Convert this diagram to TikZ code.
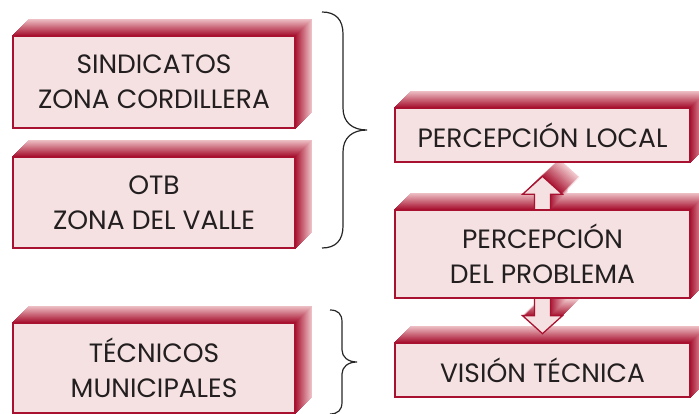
\documentclass[tikz,border=0pt]{standalone}
\usepackage{fontspec}
\setmainfont{Poppins}
\usetikzlibrary{positioning, backgrounds}

\definecolor{boxfront}{RGB}{245,225,225}
\definecolor{boxdark}{RGB}{168,18,48}
\definecolor{boxlight}{RGB}{246,214,216}
\definecolor{inktext}{RGB}{35,31,32}

\tikzset{
    block/.style = {draw=boxdark, fill=boxfront, line width=1.3pt, minimum width=282pt,
        inner sep=0pt, align=center, text=inktext, font=\fontsize{26.5}{35}\selectfont},
    wideblock/.style = {block, minimum width=295pt},
    blockarrow/.style = {draw=boxdark, fill=boxfront, line width=1.3pt, line join=miter},
    curly/.style = {line width=1.2pt, black!85},
}

% stack of shifted slices behind a box, dark at the front, light at the back
\newcommand{\extrudebox}[1]{%
    \foreach \k in {16,...,1}{
        \pgfmathsetmacro\pct{100-5.5*\k}
        \fill [boxdark!\pct!boxlight] ([shift={(\k,\k)}]#1.south west) rectangle ([shift={(\k,\k)}]#1.north east);
    }}

\begin{document}
\begin{tikzpicture}[x=1pt, y=1pt, node distance = 119pt, on grid]
    \useasboundingbox (0,0) rectangle (699,414);

    % left column
    \node (sind) [block, minimum height=92pt] at (154,332) {SINDICATOS\\ZONA CORDILLERA};
    \node (otb) [block, minimum height=91pt, below = 120.5pt of sind] {OTB\\ZONA DEL VALLE};
    \node (tec) [block, minimum height=90pt, below = 165.5pt of otb] {TÉCNICOS\\MUNICIPALES};

    % right column
    \node (loc) [wideblock, minimum height=54pt] at (542.5,279) {PERCEPCIÓN LOCAL};
    \node (prob) [wideblock, minimum height=88pt, below = of loc] {PERCEPCIÓN\\DEL PROBLEMA};
    \node (vis) [wideblock, minimum height=54pt, below = 116pt of prob] {VISIÓN TÉCNICA};

    \begin{scope}[on background layer]
        \extrudebox{sind}
        \extrudebox{otb}
        \extrudebox{tec}
        \extrudebox{loc}
        \extrudebox{prob}
        \extrudebox{vis}

        % depth of the two block arrows
        \foreach \k in {17,...,1}{
            \pgfmathsetmacro\pct{100-5.5*\k}
            \fill [boxdark!\pct!boxlight] ([shift={(\k,\k)}]prob.north) ++(-8,0) -- ++(0,15) -- ++(-12,0)
                -- ++(20,18) -- ++(20,-18) -- ++(-12,0) -- ++(0,-15) -- cycle;
            \fill [boxdark!\pct!boxlight] ([shift={(\k,\k)}]prob.south) ++(-8,0) -- ++(0,-17) -- ++(-12,0)
                -- ++(20,-18) -- ++(20,18) -- ++(-12,0) -- ++(0,17) -- cycle;
        }
        \draw [blockarrow] (prob.north) ++(-8,0) -- ++(0,15) -- ++(-12,0)
            -- ++(20,18) -- ++(20,-18) -- ++(-12,0) -- ++(0,-15);
        \draw [blockarrow] (prob.south) ++(-8,0) -- ++(0,-17) -- ++(-12,0)
            -- ++(20,-18) -- ++(20,18) -- ++(-12,0) -- ++(0,17);
    \end{scope}

    % braces
    \draw [curly] (322,402) .. controls (336,402) and (343,394) .. (343,380) -- (343,306)
        .. controls (343,292) and (352,284) .. (367,284)
        .. controls (352,284) and (343,276) .. (343,262) -- (343,188)
        .. controls (343,174) and (336,166) .. (322,166);
    \draw [curly] (330,104) .. controls (338,104) and (342,100) .. (342,92) -- (342,64)
        .. controls (342,57) and (348,52) .. (357,52)
        .. controls (348,52) and (342,47) .. (342,40) -- (342,12)
        .. controls (342,4) and (338,0) .. (330,0);
\end{tikzpicture}
\end{document}
